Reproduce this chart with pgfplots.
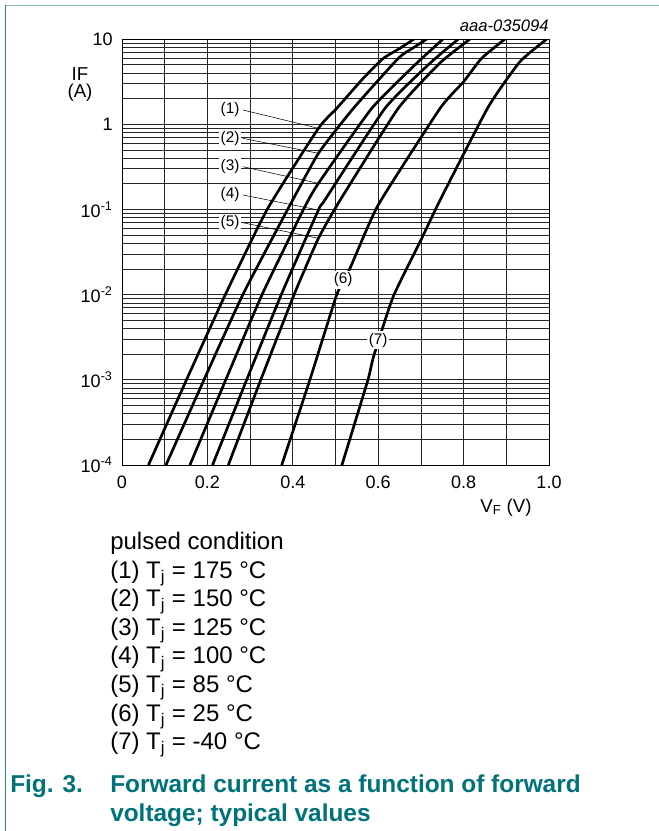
\documentclass[border=0pt]{standalone}
\usepackage{fontspec}
\setmainfont{Liberation Sans}
\usepackage{pgfplots}
\pgfplotsset{compat=1.18}
\definecolor{nxpteal}{RGB}{0,115,122}
\definecolor{bordertop}{RGB}{130,185,188}
\begin{document}
\begin{tikzpicture}[x=0.75pt,y=-0.75pt]
\path[use as bounding box] (0,0) rectangle (659,831);
\fill[white] (0,0) rectangle (659,831);
\draw[bordertop, line width=1.4pt] (5,5.5) -- (659,5.5);
\draw[nxpteal!85, line width=1.1pt] (5.5,5) -- (5.5,831);
\begin{axis}[
  at={(91.5pt,-348.75pt)}, anchor=south west,
  scale only axis, width=320.25pt, height=319.5pt,
  xmin=0, xmax=1, ymin=1e-4, ymax=10, ymode=log,
  xtick={0,0.1,0.2,0.3,0.4,0.5,0.6,0.7,0.8,0.9,1},
  xticklabels={0,,0.2,,0.4,,0.6,,0.8,,1.0},
  ytick={1e-4,1e-3,1e-2,1e-1,1,10},
  yticklabels={10\textsuperscript{-4},10\textsuperscript{-3},10\textsuperscript{-2},10\textsuperscript{-1},1,10},
  minor ytick={2e-4,3e-4,4e-4,5e-4,6e-4,7e-4,8e-4,9e-4,
               2e-3,3e-3,4e-3,5e-3,6e-3,7e-3,8e-3,9e-3,
               2e-2,3e-2,4e-2,5e-2,6e-2,7e-2,8e-2,9e-2,
               0.2,0.3,0.4,0.5,0.6,0.7,0.8,0.9,
               2,3,4,5,6,7,8,9},
  grid=both,
  major grid style={black!85, line width=0.6pt},
  minor grid style={black!85, line width=0.5pt},
  major tick length=0pt, minor tick length=0pt,
  axis line style={black, line width=0.7pt},
  tick label style={font=\fontsize{13.5}{16}\selectfont},
  xticklabel style={yshift=-5pt},
  yticklabel style={xshift=-3.5pt},
  clip mode=individual,
]
% (1) Tj = 175 C
\addplot[black, line width=2pt, smooth, tension=0.3] coordinates {
(0.062,1e-4) (0.151,1e-3) (0.242,1e-2) (0.340,0.1) (0.46,0.895) (0.503,1.538) (0.565,3.459) (0.612,5.929) (0.651,7.78) (0.684,10)};
% (2) Tj = 150 C
\addplot[black, line width=2pt, smooth, tension=0.3] coordinates {
(0.103,1e-4) (0.192,1e-3) (0.283,1e-2) (0.388,0.1) (0.46,0.455) (0.542,1.538) (0.647,5.929) (0.680,7.76) (0.714,10)};
% (3) Tj = 125 C
\addplot[black, line width=2pt, smooth, tension=0.3] coordinates {
(0.159,1e-4) (0.243,1e-3) (0.328,1e-2) (0.425,0.1) (0.46,0.2023) (0.585,1.538) (0.690,5.188) (0.752,10)};
% (4) Tj = 100 C
\addplot[black, line width=2pt, smooth, tension=0.3] coordinates {
(0.212,1e-4) (0.292,1e-3) (0.373,1e-2) (0.46,0.0984) (0.475,0.1288) (0.616,1.538) (0.720,5.129) (0.788,10)};
% (5) Tj = 85 C
\addplot[black, line width=2pt, smooth, tension=0.3] coordinates {
(0.249,1e-4) (0.325,1e-3) (0.403,1e-2) (0.46,0.0458) (0.511,0.1288) (0.647,1.538) (0.745,5.248) (0.815,10)};
% (6) Tj = 25 C
\addplot[black, line width=2pt, smooth, tension=0.3] coordinates {
(0.374,1e-4) (0.440,1e-3) (0.503,1e-2) (0.534,0.02037) (0.600,0.1127) (0.745,1.538) (0.800,3.155) (0.842,5.929) (0.897,10)};
% (7) Tj = -40 C
\addplot[black, line width=2pt, smooth, tension=0.3] coordinates {
(0.515,1e-4) (0.576,1e-3) (0.589,0.001866) (0.635,0.00944) (0.702,0.0458) (0.745,0.1288) (0.858,1.603) (0.932,5.42) (0.995,10)};
% leaders
\draw[black, line width=0.4pt] (axis cs:0.283,1.47) -- (axis cs:0.46,0.895);
\draw[black, line width=0.4pt] (axis cs:0.283,0.683) -- (axis cs:0.46,0.455);
\draw[black, line width=0.4pt] (axis cs:0.283,0.317) -- (axis cs:0.46,0.2023);
\draw[black, line width=0.4pt] (axis cs:0.283,0.1476) -- (axis cs:0.46,0.0984);
\draw[black, line width=0.4pt] (axis cs:0.283,0.0698) -- (axis cs:0.46,0.0458);
% labels
\tikzset{clab/.style={fill=white, inner sep=1.2pt, font=\fontsize{11.5}{13}\selectfont}}
\node[clab] at (axis cs:0.253,1.47) {(1)};
\node[clab] at (axis cs:0.253,0.683) {(2)};
\node[clab] at (axis cs:0.253,0.317) {(3)};
\node[clab] at (axis cs:0.253,0.1476) {(4)};
\node[clab] at (axis cs:0.253,0.0698) {(5)};
\node[clab] at (axis cs:0.518,0.01483) {(6)};
\node[clab] at (axis cs:0.600,0.00293) {(7)};
\end{axis}
\node[font=\fontsize{14}{16}\selectfont] at (80,74) {IF};
\node[font=\fontsize{14}{16}\selectfont] at (80,93) {(A)};
\node[anchor=base east, inner sep=0pt, font=\fontsize{12.5}{14}\selectfont\itshape] at (549,32) {aaa-035094};
\node[anchor=base, inner sep=0pt, font=\fontsize{14}{16}\selectfont] at (506,512) {V\textsubscript{F} (V)};
\begin{scope}[every node/.style={anchor=base west, inner sep=0pt, font=\fontsize{18}{21}\selectfont}]
\node at (110,549) {pulsed condition};
\node at (110,578) {(1) T\textsubscript{j} = 175 °C};
\node at (110,606.6) {(2) T\textsubscript{j} = 150 °C};
\node at (110,635.2) {(3) T\textsubscript{j} = 125 °C};
\node at (110,663.8) {(4) T\textsubscript{j} = 100 °C};
\node at (110,692.4) {(5) T\textsubscript{j} = 85 °C};
\node at (110,721) {(6) T\textsubscript{j} = 25 °C};
\node at (110,749.6) {(7) T\textsubscript{j} = -40 °C};
\end{scope}
\begin{scope}[every node/.style={anchor=base west, inner sep=0pt, text=nxpteal, font=\fontsize{18.3}{21}\selectfont\bfseries}]
\node at (10,792) {Fig. 3.};
\node at (110,792) {Forward current as a function of forward};
\node at (110,821) {voltage; typical values};
\end{scope}
\end{tikzpicture}
\end{document}
